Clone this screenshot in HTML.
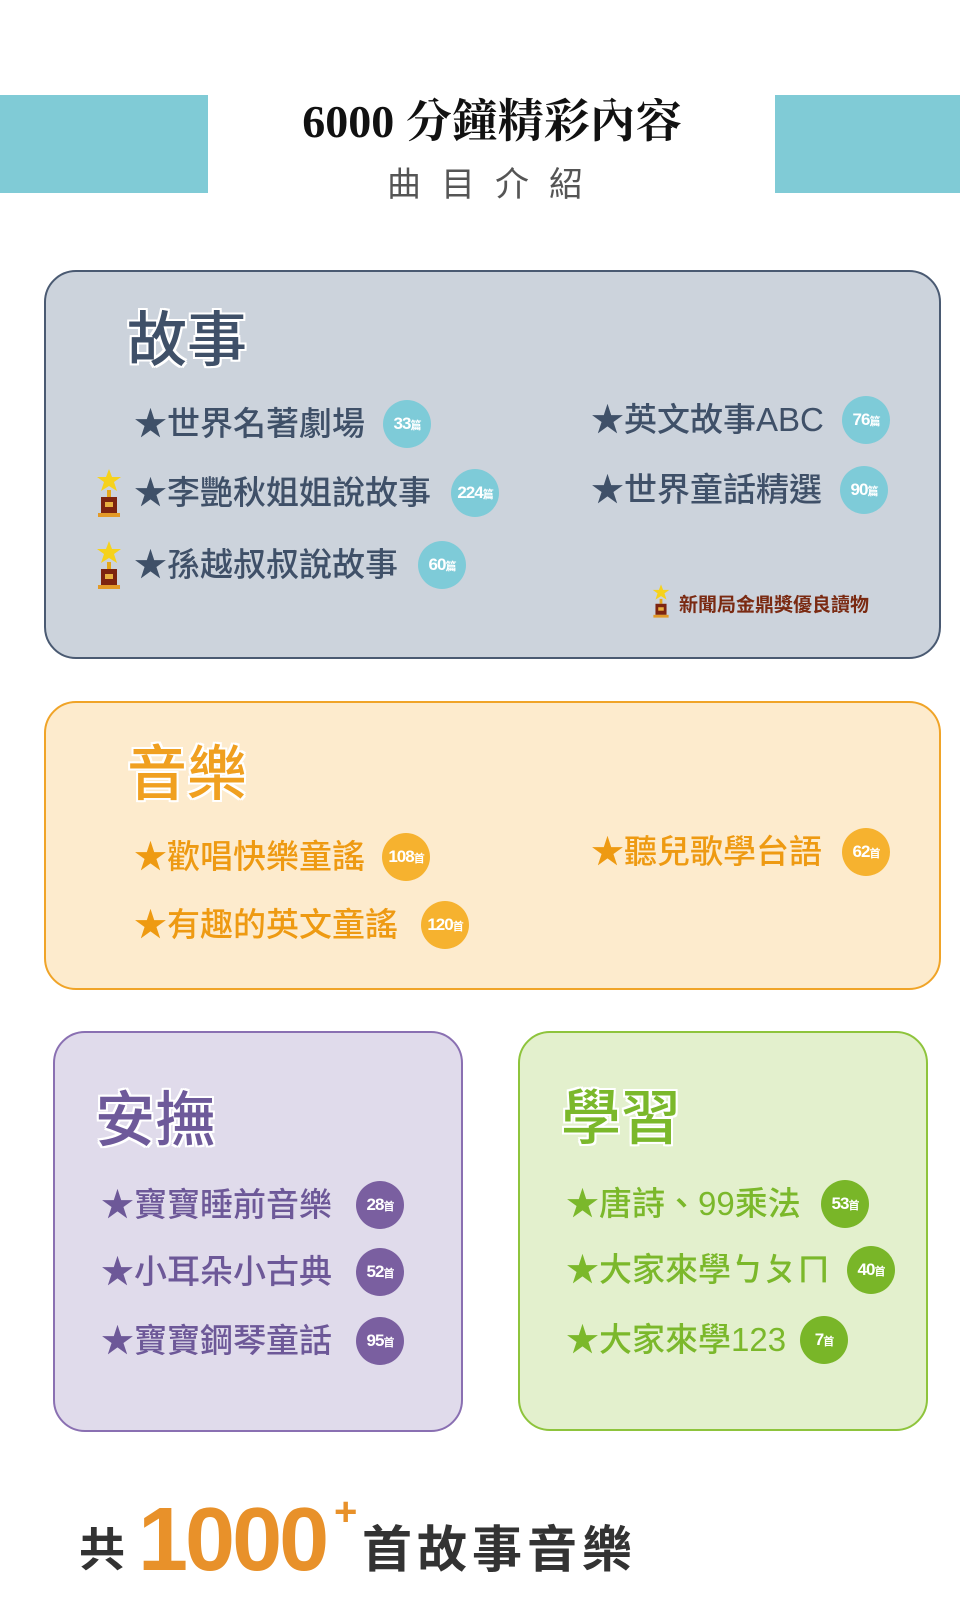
<!DOCTYPE html>
<html><head><meta charset="utf-8">
<style>
*{margin:0;padding:0;box-sizing:border-box}
body{width:960px;height:1620px;background:#fff;position:relative;overflow:hidden;font-family:"Liberation Sans","Noto Sans CJK TC",sans-serif}
.a{position:absolute;white-space:nowrap}
.box{position:absolute;border-radius:32px;border:2px solid}
.h{position:absolute;font-size:60px;font-weight:500;line-height:64px;
text-shadow:2px 2px 0 #fff,-2px -2px 0 #fff,2px -2px 0 #fff,-2px 2px 0 #fff,0 2px 0 #fff,2px 0 0 #fff,0 -2px 0 #fff,-2px 0 0 #fff}
.it{position:absolute;font-size:33px;line-height:44px;height:44px;white-space:nowrap;font-weight:500}
.b{position:absolute;width:48px;height:48px;border-radius:50%;color:#fff;font-weight:700;font-size:17px;text-align:center;line-height:48px;letter-spacing:-1px;white-space:nowrap}
.b small{font-size:11px}
.s .it{color:#3f5068}.s .b{background:#7ecbd8}
.m .it{color:#ee9a12}.m .b{background:#f6b22f}
.p .it{color:#6d5898}.p .b{background:#7a5fa0}
.g .it{color:#7bb82b}.g .b{background:#79b628}
</style></head><body>
<div class="a" style="left:0;top:95px;width:208px;height:98px;background:#80cbd6"></div>
<div class="a" style="left:775px;top:95px;width:185px;height:98px;background:#80cbd6"></div>
<div class="a" style="left:0;width:960px;top:92px;text-align:center;font-family:'Liberation Serif','Noto Serif CJK TC',serif;font-weight:700;font-size:46px;line-height:60px;color:#111;padding-left:24px">6000 分鐘精彩內容</div>
<div class="a" style="left:0;width:960px;top:162px;text-align:center;font-size:34px;line-height:46px;color:#555;letter-spacing:20px;padding-left:30px">曲目介紹</div>

<div class="s">
<div class="box" style="left:44px;top:270px;width:897px;height:389px;background:#ccd3dc;border-color:#4a5a72"></div>
<div class="h" style="left:127px;top:309px;color:#3f5068">故事</div>
<div class="it" style="left:134px;top:402px">★世界名著劇場</div><div class="b" style="left:383px;top:400px">33<small>篇</small></div>
<div class="it" style="left:134px;top:471px">★李艷秋姐姐說故事</div><div class="b" style="left:451px;top:469px">224<small>篇</small></div>
<div class="it" style="left:134px;top:543px">★孫越叔叔說故事</div><div class="b" style="left:418px;top:541px">60<small>篇</small></div>
<div class="it" style="left:591px;top:398px">★英文故事ABC</div><div class="b" style="left:842px;top:396px">76<small>篇</small></div>
<div class="it" style="left:591px;top:468px">★世界童話精選</div><div class="b" style="left:840px;top:466px">90<small>篇</small></div>
<div class="a" style="left:679px;top:594px;font-size:19px;line-height:24px;color:#7a2a12;font-weight:700">新聞局金鼎獎優良讀物</div>
</div>
<svg class="a" style="left:96px;top:468px" width="26" height="50" viewBox="0 0 26 50"><polygon points="13,1 16,9 25,9 18,14 21,23 13,18 5,23 8,14 1,9 10,9" fill="#f6d21c"/><rect x="11" y="22" width="4" height="7" fill="#e5a81a"/><rect x="5" y="29" width="16" height="16" fill="#7d2410"/><rect x="9" y="34" width="8" height="5" fill="#e8b040"/><rect x="2" y="45" width="22" height="4" fill="#e39a28"/></svg>
<svg class="a" style="left:96px;top:540px" width="26" height="50" viewBox="0 0 26 50"><polygon points="13,1 16,9 25,9 18,14 21,23 13,18 5,23 8,14 1,9 10,9" fill="#f6d21c"/><rect x="11" y="22" width="4" height="7" fill="#e5a81a"/><rect x="5" y="29" width="16" height="16" fill="#7d2410"/><rect x="9" y="34" width="8" height="5" fill="#e8b040"/><rect x="2" y="45" width="22" height="4" fill="#e39a28"/></svg>
<svg class="a" style="left:652px;top:583px" width="18" height="36" viewBox="0 0 26 50"><polygon points="13,1 16,9 25,9 18,14 21,23 13,18 5,23 8,14 1,9 10,9" fill="#f6d21c"/><rect x="11" y="22" width="4" height="7" fill="#e5a81a"/><rect x="5" y="29" width="16" height="16" fill="#7d2410"/><rect x="9" y="34" width="8" height="5" fill="#e8b040"/><rect x="2" y="45" width="22" height="4" fill="#e39a28"/></svg>

<div class="m">
<div class="box" style="left:44px;top:701px;width:897px;height:289px;background:#fdebcd;border-color:#f0a428"></div>
<div class="h" style="left:127px;top:743px;color:#f0a020">音樂</div>
<div class="it" style="left:134px;top:835px">★歡唱快樂童謠</div><div class="b" style="left:382px;top:833px">108<small>首</small></div>
<div class="it" style="left:134px;top:903px">★有趣的英文童謠</div><div class="b" style="left:421px;top:901px">120<small>首</small></div>
<div class="it" style="left:591px;top:830px">★聽兒歌學台語</div><div class="b" style="left:842px;top:828px">62<small>首</small></div>
</div>

<div class="p">
<div class="box" style="left:53px;top:1031px;width:410px;height:401px;background:#e0dbeb;border-color:#8a70b2"></div>
<div class="h" style="left:95px;top:1089px;color:#6e5a9a">安撫</div>
<div class="it" style="left:101px;top:1183px">★寶寶睡前音樂</div><div class="b" style="left:356px;top:1181px">28<small>首</small></div>
<div class="it" style="left:101px;top:1250px">★小耳朵小古典</div><div class="b" style="left:356px;top:1248px">52<small>首</small></div>
<div class="it" style="left:101px;top:1319px">★寶寶鋼琴童話</div><div class="b" style="left:356px;top:1317px">95<small>首</small></div>
</div>

<div class="g">
<div class="box" style="left:518px;top:1031px;width:410px;height:400px;background:#e3f0cd;border-color:#8ec43c"></div>
<div class="h" style="left:561px;top:1087px;color:#7bb82b">學習</div>
<div class="it" style="left:566px;top:1182px">★唐詩、99乘法</div><div class="b" style="left:821px;top:1180px">53<small>首</small></div>
<div class="it" style="left:566px;top:1248px">★大家來學ㄅㄆㄇ</div><div class="b" style="left:847px;top:1246px">40<small>首</small></div>
<div class="it" style="left:566px;top:1318px">★大家來學123</div><div class="b" style="left:800px;top:1316px">7<small>首</small></div>
</div>

<div class="a" style="left:79px;top:1522px;font-size:46px;line-height:56px;color:#333;font-weight:700">共</div>
<div class="a" style="left:138px;top:1490px;font-size:90px;line-height:100px;color:#e8912a;font-weight:700;letter-spacing:-3px">1000</div>
<div class="a" style="left:334px;top:1490px;font-size:40px;line-height:44px;color:#e8912a;font-weight:700">+</div>
<div class="a" style="left:362px;top:1520px;font-size:50px;line-height:60px;color:#333;font-weight:700;letter-spacing:5px">首故事音樂</div>
</body></html>
